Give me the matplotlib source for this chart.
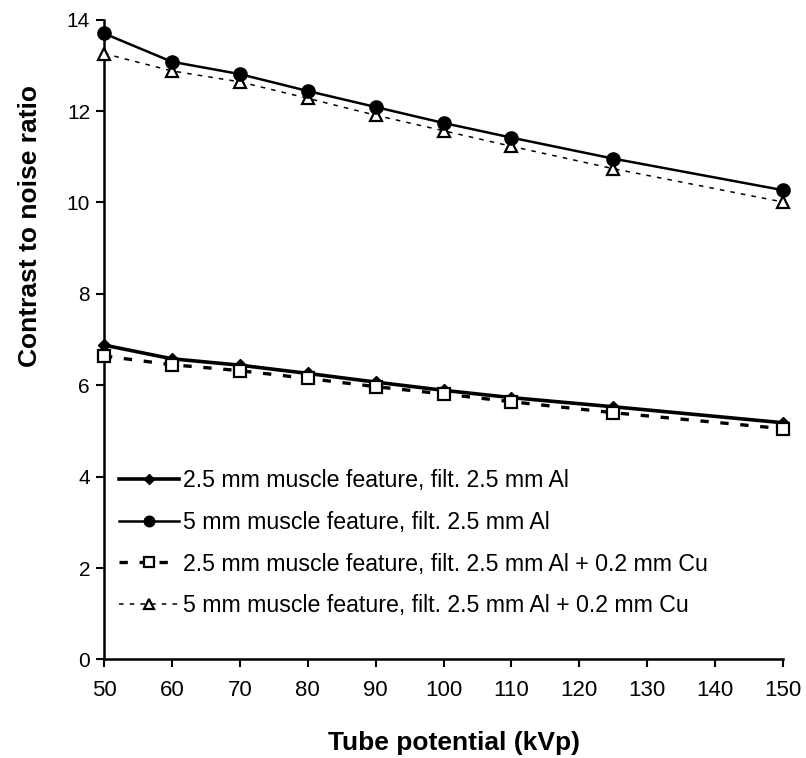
import matplotlib
matplotlib.use("Agg")
import matplotlib.pyplot as plt

# tube potential (kVp)
kvp = [50, 60, 70, 80, 90, 100, 110, 125, 150]

# contrast to noise ratio
cnr_25_al = [6.88, 6.58, 6.44, 6.26, 6.07, 5.89, 5.73, 5.53, 5.18]
cnr_5_al = [13.70, 13.08, 12.81, 12.44, 12.09, 11.74, 11.42, 10.96, 10.27]
cnr_25_cu = [6.64, 6.45, 6.32, 6.15, 5.97, 5.81, 5.64, 5.40, 5.05]
cnr_5_cu = [13.26, 12.88, 12.64, 12.28, 11.91, 11.57, 11.23, 10.74, 10.01]

labels = [
    "2.5 mm muscle feature, filt. 2.5 mm Al",
    "5 mm muscle feature, filt. 2.5 mm Al",
    "2.5 mm muscle feature, filt. 2.5 mm Al + 0.2 mm Cu",
    "5 mm muscle feature, filt. 2.5 mm Al + 0.2 mm Cu",
]
x_ticks = list(range(50, 151, 10))
y_ticks = list(range(0, 15, 2))

plt.rcParams['font.family'] = ['Liberation Sans', 'DejaVu Sans']

fig = plt.figure(figsize=(8.06, 7.58), dpi=100)
ax = fig.add_axes([0.129, 0.130, 0.8425, 0.844])

l1, = ax.plot(kvp, cnr_25_al, color='black', lw=2.6, marker='D', ms=6.5,
              mfc='black', mec='black', zorder=3, clip_on=False, label=labels[0])
l3, = ax.plot(kvp, cnr_25_cu, color='black', lw=2.4, ls=(0, (2.5, 3.5)),
              marker='s', ms=9, mfc='white', mec='black', mew=1.6,
              zorder=4, clip_on=False, label=labels[2])
l4, = ax.plot(kvp, cnr_5_cu, color='black', lw=1.1, ls=(0, (3, 4)),
              marker='^', ms=9, mfc='white', mec='black', mew=1.6,
              zorder=3, clip_on=False, label=labels[3])
l2, = ax.plot(kvp, cnr_5_al, color='black', lw=1.8, marker='o', ms=9.5,
              mfc='black', mec='black', zorder=4, clip_on=False, label=labels[1])

ax.set_xlim(50, 150)
ax.set_ylim(0, 14)
ax.set_xticks(x_ticks)
ax.set_yticks(y_ticks)

for s in ['top', 'right']:
    ax.spines[s].set_visible(False)
for s in ['left', 'bottom']:
    ax.spines[s].set_linewidth(1.8)
    ax.spines[s].set_color('black')

ax.tick_params(axis='both', direction='out', length=6, width=1.5, colors='black')
ax.tick_params(axis='x', pad=9, labelsize=16)
ax.tick_params(axis='y', pad=4, labelsize=15)

ax.set_xlabel("Tube potential (kVp)", fontsize=19, fontweight='bold')
ax.set_ylabel("Contrast to noise ratio", fontsize=19, fontweight='bold')
ax.xaxis.set_label_coords(0.515, -0.112)
ax.yaxis.set_label_coords(-0.091, 0.678)

ax.legend(handles=[l1, l2, l3, l4], loc='lower left',
          bbox_to_anchor=(-0.012, 0.03), frameon=False, fontsize=16.7,
          handlelength=2.6, handletextpad=0.15, labelspacing=0.8,
          numpoints=1, markerscale=0.8, borderaxespad=0.6)

fig.savefig("out.png", dpi=100, facecolor='white')
